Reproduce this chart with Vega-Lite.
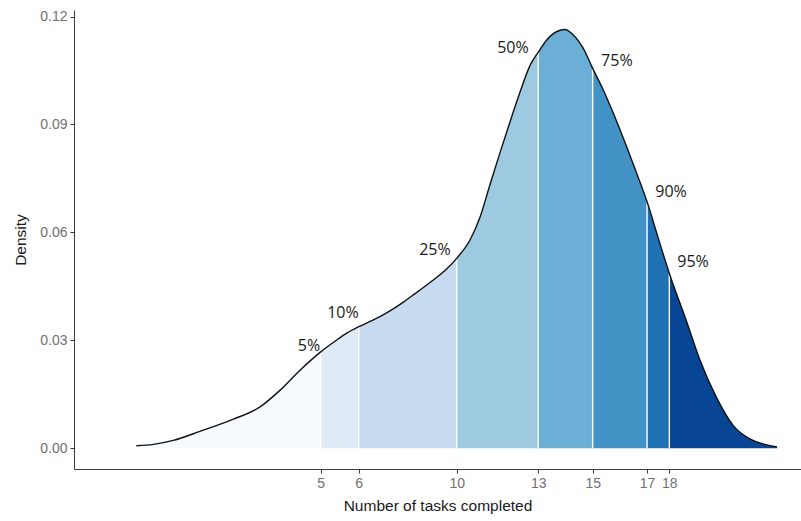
{
  "$schema": "https://vega.github.io/schema/vega-lite/v6.json",
  "width": 727,
  "height": 459,
  "autosize": {"type": "none"},
  "padding": {"left": 74, "top": 10, "right": 0, "bottom": 52},
  "background": "white",
  "config": {
    "view": {"stroke": null},
    "axis": {
      "domainColor": "#3a3a3a", "tickColor": "#3a3a3a", "domainWidth": 1, "tickWidth": 1,
      "labelColor": "#707070", "labelFont": "Liberation Sans", "labelFontSize": 14,
      "titleFont": "Liberation Sans", "titleFontSize": 15.5, "titleFontWeight": "normal", "titleColor": "#1a1a1a",
      "grid": false
    }
  },
  "datasets": {
    "curve": [
      {"x": -1.78, "density": 0.0007}, {"x": -1.15, "density": 0.0011}, {"x": -0.42, "density": 0.0022},
      {"x": 0.56, "density": 0.0047}, {"x": 1.79, "density": 0.0081}, {"x": 2.77, "density": 0.0115},
      {"x": 3.5, "density": 0.0161}, {"x": 4.24, "density": 0.0217}, {"x": 5.0, "density": 0.0268},
      {"x": 5.59, "density": 0.0301}, {"x": 5.96, "density": 0.032}, {"x": 6.4, "density": 0.0338},
      {"x": 6.92, "density": 0.0356}, {"x": 7.44, "density": 0.0377}, {"x": 7.92, "density": 0.04},
      {"x": 8.47, "density": 0.043}, {"x": 9.02, "density": 0.0461}, {"x": 9.57, "density": 0.0494},
      {"x": 10.0, "density": 0.0528}, {"x": 10.49, "density": 0.0579}, {"x": 10.86, "density": 0.0643},
      {"x": 11.22, "density": 0.0732}, {"x": 11.59, "density": 0.0821}, {"x": 11.96, "density": 0.0907},
      {"x": 12.33, "density": 0.099}, {"x": 12.69, "density": 0.1063}, {"x": 13.0, "density": 0.1101},
      {"x": 13.31, "density": 0.1135}, {"x": 13.54, "density": 0.1152}, {"x": 13.8, "density": 0.1162},
      {"x": 13.98, "density": 0.1164}, {"x": 14.29, "density": 0.1149}, {"x": 14.65, "density": 0.1112},
      {"x": 15.0, "density": 0.1056}, {"x": 15.39, "density": 0.0996}, {"x": 15.76, "density": 0.0931},
      {"x": 16.25, "density": 0.0838}, {"x": 16.62, "density": 0.0764}, {"x": 17.0, "density": 0.0685},
      {"x": 17.4, "density": 0.0587}, {"x": 17.82, "density": 0.0486}, {"x": 18.46, "density": 0.0351},
      {"x": 18.94, "density": 0.0246}, {"x": 19.56, "density": 0.014}, {"x": 20.17, "density": 0.0063},
      {"x": 20.78, "density": 0.0026}, {"x": 21.78, "density": 0.0004}
    ],
    "quantiles": [
      {"q": "5%", "x": 5.0, "density": 0.0268},
      {"q": "10%", "x": 6.4, "density": 0.0338},
      {"q": "25%", "x": 10.0, "density": 0.0528},
      {"q": "50%", "x": 13.0, "density": 0.1101},
      {"q": "75%", "x": 15.0, "density": 0.1056},
      {"q": "90%", "x": 17.0, "density": 0.0685},
      {"q": "95%", "x": 17.82, "density": 0.0486}
    ],
    "labels": [
      {"label": "5%", "x": 4.57, "density": 0.0284},
      {"label": "10%", "x": 5.82, "density": 0.0376},
      {"label": "25%", "x": 9.2, "density": 0.0552},
      {"label": "50%", "x": 12.07, "density": 0.1113},
      {"label": "75%", "x": 15.89, "density": 0.1076},
      {"label": "90%", "x": 17.88, "density": 0.0712},
      {"label": "95%", "x": 18.69, "density": 0.0518}
    ]
  },
  "encoding": {
    "x": {
      "field": "x", "type": "quantitative",
      "scale": {"domain": [-4.07, 22.66], "nice": false, "zero": false},
      "axis": {
        "title": "Number of tasks completed",
        "values": [5.0, 6.4, 10, 13, 15, 17, 17.82],
        "labelExpr": "format(round(datum.value), 'd')",
        "tickSize": 4, "labelPadding": 3, "titlePadding": 8,
        "labelOverlap": false, "labelFlush": false
      }
    },
    "y": {
      "field": "density", "type": "quantitative",
      "scale": {"domain": [-0.00575, 0.12182], "nice": false, "zero": false},
      "axis": {
        "title": "Density",
        "values": [0, 0.03, 0.06, 0.09, 0.12],
        "format": ".2f",
        "tickSize": 4, "labelPadding": 3, "titlePadding": 11
      }
    }
  },
  "layer": [
    {"data": {"name": "curve"}, "transform": [{"filter": "datum.x <= 5.0"}],
     "mark": {"type": "area", "interpolate": "monotone", "color": "#f7fbff"}, "encoding": {"y2": {"datum": 0}}},
    {"data": {"name": "curve"}, "transform": [{"filter": "datum.x >= 5.0 && datum.x <= 6.4"}],
     "mark": {"type": "area", "interpolate": "monotone", "color": "#deebf7"}, "encoding": {"y2": {"datum": 0}}},
    {"data": {"name": "curve"}, "transform": [{"filter": "datum.x >= 6.4 && datum.x <= 10.0"}],
     "mark": {"type": "area", "interpolate": "monotone", "color": "#c6dbef"}, "encoding": {"y2": {"datum": 0}}},
    {"data": {"name": "curve"}, "transform": [{"filter": "datum.x >= 10.0 && datum.x <= 13.0"}],
     "mark": {"type": "area", "interpolate": "monotone", "color": "#9ecae1"}, "encoding": {"y2": {"datum": 0}}},
    {"data": {"name": "curve"}, "transform": [{"filter": "datum.x >= 13.0 && datum.x <= 15.0"}],
     "mark": {"type": "area", "interpolate": "monotone", "color": "#6baed6"}, "encoding": {"y2": {"datum": 0}}},
    {"data": {"name": "curve"}, "transform": [{"filter": "datum.x >= 15.0 && datum.x <= 17.0"}],
     "mark": {"type": "area", "interpolate": "monotone", "color": "#4292c6"}, "encoding": {"y2": {"datum": 0}}},
    {"data": {"name": "curve"}, "transform": [{"filter": "datum.x >= 17.0 && datum.x <= 17.82"}],
     "mark": {"type": "area", "interpolate": "monotone", "color": "#2171b5"}, "encoding": {"y2": {"datum": 0}}},
    {"data": {"name": "curve"}, "transform": [{"filter": "datum.x >= 17.82"}],
     "mark": {"type": "area", "interpolate": "monotone", "color": "#084594"}, "encoding": {"y2": {"datum": 0}}},
    {"data": {"name": "quantiles"},
     "mark": {"type": "rule", "color": "white", "strokeWidth": 1.4}, "encoding": {"y2": {"datum": 0}}},
    {"data": {"name": "curve"},
     "mark": {"type": "line", "interpolate": "monotone", "color": "#111111", "strokeWidth": 1.4}, "encoding": {}},
    {"data": {"name": "labels"},
     "mark": {"type": "text", "font": "Open Sans", "fontSize": 16, "color": "#1a1a1a", "align": "center", "baseline": "middle"},
     "encoding": {"text": {"field": "label"}}}
  ]
}
